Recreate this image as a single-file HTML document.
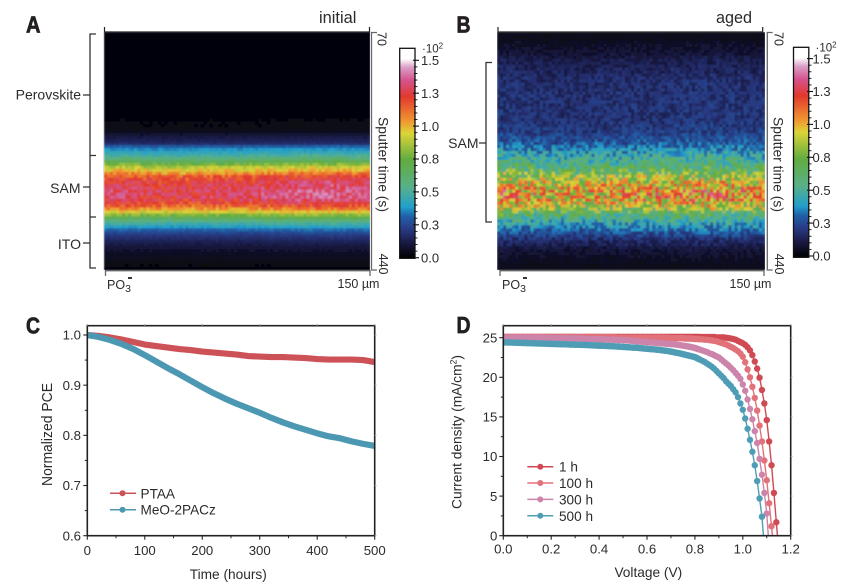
<!DOCTYPE html>
<html>
<head>
<meta charset="utf-8">
<title>Perovskite SAM degradation figure</title>
<style>
html,body{margin:0;padding:0;background:#fff;width:847px;height:586px;overflow:hidden;}
svg{display:block;}
text{font-family:"Liberation Sans",sans-serif;fill:#2b2b2b;}
.letter{font-weight:bold;font-size:23px;fill:#231f20;stroke:#231f20;stroke-width:.7px;}
</style>
</head>
<body>
<svg id="fig" xmlns="http://www.w3.org/2000/svg" width="847" height="586" viewBox="0 0 847 586">
  <defs>
    <filter id="soft" x="-2%" y="-2%" width="104%" height="104%"><feGaussianBlur stdDeviation="0.7"/></filter>
    <clipPath id="clipA"><rect x="104" y="32" width="266" height="238"/></clipPath>
    <clipPath id="clipB"><rect x="497" y="32" width="268" height="238"/></clipPath>
    <clipPath id="clipC"><rect x="87" y="325" width="288" height="211"/></clipPath>
    <clipPath id="clipD"><rect x="503" y="325" width="288" height="211"/></clipPath>
    <linearGradient id="cmap" x1="0" y1="1" x2="0" y2="0"></linearGradient>
  </defs>

  <text class="letter" x="26" y="32.5" textLength="14.5" lengthAdjust="spacingAndGlyphs">A</text>
  <text class="letter" x="456.5" y="32.5" textLength="14" lengthAdjust="spacingAndGlyphs">B</text>
  <text class="letter" x="26" y="333.5" textLength="14" lengthAdjust="spacingAndGlyphs">C</text>
  <text class="letter" x="456.5" y="333" textLength="14" lengthAdjust="spacingAndGlyphs">D</text>

  <!-- Panel A furniture -->
  <g id="heatA" clip-path="url(#clipA)"><g id="heatAcells" filter="url(#soft)"></g></g>
  <text x="319" y="23" font-size="16.4">initial</text>
  <path d="M104.5 27V32H369.5V27" fill="none" stroke="#222" stroke-width="1.2"/>
  <path d="M103.5 32V270" stroke="#ddd" stroke-width="1"/>
  <path d="M377 32.5H371.5V270H377" fill="none" stroke="#666" stroke-width="1.3"/>
  <path d="M105.5 276V270.7H370V276" fill="none" stroke="#666" stroke-width="1.3"/>
  <path d="M96 34H90V155.5M96 155.5H90V217M96 217H90V268H96M83 95H90M83 187H90M83 243H90" fill="none" stroke="#333" stroke-width="1.3"/>
  <text x="81" y="99.5" font-size="14" text-anchor="end">Perovskite</text>
  <text x="80.5" y="193" font-size="14" text-anchor="end">SAM</text>
  <text x="81" y="249" font-size="14" text-anchor="end">ITO</text>
  <text transform="translate(377.5 39) rotate(90)" font-size="12.5" text-anchor="middle">70</text>
  <text transform="translate(379 264) rotate(90)" font-size="12.5" text-anchor="middle">440</text>
  <text transform="translate(378.5 164.5) rotate(90)" font-size="13.6" text-anchor="middle" textLength="95" lengthAdjust="spacingAndGlyphs">Sputter time (s)</text>
  <text x="107" y="289" font-size="12.5">PO<tspan font-size="10.5" dy="3">3</tspan></text>
  <path d="M128 278H132" stroke="#222" stroke-width="1.8"/>
  <text x="337.5" y="288" font-size="12.5">150 µm</text>

  <!-- Panel B furniture -->
  <g id="heatB" clip-path="url(#clipB)"><g id="heatBcells" filter="url(#soft)"></g></g>
  <text x="716" y="23" font-size="16.2">aged</text>
  <path d="M498 27V32H762.7V27" fill="none" stroke="#222" stroke-width="1.2"/>
  <path d="M772.7 32.5H767.3V270H772.7" fill="none" stroke="#666" stroke-width="1.3"/>
  <path d="M500 276V270.7H764V276" fill="none" stroke="#666" stroke-width="1.3"/>
  <path d="M492 62.5H486V222H492M479 143H486" fill="none" stroke="#333" stroke-width="1.3"/>
  <text x="478.5" y="148" font-size="14" text-anchor="end">SAM</text>
  <text transform="translate(774.5 39) rotate(90)" font-size="12.5" text-anchor="middle">70</text>
  <text transform="translate(775 264) rotate(90)" font-size="12.5" text-anchor="middle">440</text>
  <text transform="translate(773.5 164.5) rotate(90)" font-size="13.6" text-anchor="middle" textLength="95" lengthAdjust="spacingAndGlyphs">Sputter time (s)</text>
  <text x="502" y="289" font-size="12.5">PO<tspan font-size="10.5" dy="3">3</tspan></text>
  <path d="M523 278H527" stroke="#222" stroke-width="1.8"/>
  <text x="729.5" y="288" font-size="12.5">150 µm</text>

  <!-- Colour bars -->
  <rect x="399.7" y="48.3" width="15.3" height="210" fill="url(#cmap)" stroke="#111" stroke-width="1.3"/>
  <rect x="793.5" y="47.3" width="15.3" height="210" fill="url(#cmap)" stroke="#111" stroke-width="1.3"/>
  <text x="422" y="52.5" font-size="11.5">·10<tspan font-size="8" dy="-4">2</tspan></text>
  <text x="815.5" y="51.5" font-size="11.5">·10<tspan font-size="8" dy="-4">2</tspan></text>
  <g id="cbarA"></g>
  <g id="cbarB"></g>

  <!-- Panel C -->
  <g id="plotC"></g>
  <text x="228.3" y="579" font-size="13.7" text-anchor="middle">Time (hours)</text>
  <text transform="translate(52 434.5) rotate(-90)" font-size="14.4" text-anchor="middle" textLength="103" lengthAdjust="spacingAndGlyphs">Normalized PCE</text>

  <!-- Panel D -->
  <g id="plotD"></g>
  <text x="648.3" y="577" font-size="13.7" text-anchor="middle">Voltage (V)</text>
  <text transform="translate(461.7 432) rotate(-90)" font-size="14.2" text-anchor="middle" textLength="154" lengthAdjust="spacingAndGlyphs">Current density (mA/cm<tspan font-size="9" dy="-5">2</tspan><tspan dy="5">)</tspan></text>
</svg>

<script>
// ---- Heatmap data: normalised intensity per depth row, lateral factor per column block, speckle table
const intensityInitial = [
 .015,.015,.015,.015,.015,.015,.015,.015,.015,.015,.015,.015,.015,.015,.015,.015,.015,.015,.015,.015,
 .015,.015,.015,.015,.015,.015,.015,.015,.015,.018,.02,.02,.025,
 .035,.055,.075,.09,.11,.19,.235,.27,.31,.36,.42,.49,.56,.61,.67,.73,.76,.78,.79,.8,.81,.815,.81,.79,.76,.72,.66,
 .59,.5,.43,.36,.3,.25,.2,.16,.13,.11,.09,.075,.06,.05,.04,.035,.03,.025,.02,.015];
const intensityAged = [
 .03,.03,.03,.04,.045,.05,.055,.06,.07,.08,.085,.09,.095,.1,.105,.11,.11,.115,.115,.115,
 .12,.12,.12,.12,.12,.12,.12,.12,.12,.12,.125,.13,.135,.14,.15,.16,.17,.185,.205,.23,
 .26,.28,.305,.33,.36,.39,.425,.46,.5,.53,.56,.59,.62,.64,.645,.64,.62,.58,.54,.49,
 .43,.38,.34,.3,.26,.23,.2,.17,.15,.12,.1,.09,.07,.06,.05,.045,.04,.035,.03,.03];
const lateralInitial = [1,1.01,1,.98,.98,.97,.97,.98,.99,.99,.99,.99,1,1.01,1.02,1.03,1.04,1.04,1.04,1.04,1.03,1.03];
const lateralAged = [1.05,1.03,1,.98,.96,.95,.95,.96,.98,1,1,1,1,1,1.02,1.04,1.05,1.05,1.03,1.02,1.01,1.01];
const speckle = [
 .3,-.7,.9,-.2,.5,-.9,.1,.7,-.4,.8,-.6,.2,-1,.6,-.1,.4,-.8,1,-.3,.2,
 -.5,.7,-.9,.3,.9,-.2,-.7,.5,.1,-.6,.8,-.4,.6,-1,.2,.4,-.3,.9,-.8,.1,
 .7,-.5,.3,-.1,1,-.7,.4,-.9,.6,-.2,.2,.8,-.6,-.3,.5,-.8,.9,.1,-.4,.7,
 -1,.3,.6,-.5,.2,-.7,.8,-.1,.4,-.9,1,-.3,.1,-.6,.7,.5,-.8,.2,-.2,.9,
 -.4,.6,-.7,.3,-.9,.8,.1,-.5,.4,-.1,.7,-.6,.2,1,-.3,-.8,.5];
const colorbarLabels = ["0.0","0.3","0.5","0.8","1.0","1.3","1.5"];

// ---- Panel C data
const hours = [0,20,40,60,80,100,120,140,160,180,200,220,240,260,280,300,320,340,360,380,400,420,440,460,480,500];
const ptaaPce = [1,.998,.995,.991,.986,.981,.978,.975,.972,.97,.967,.965,.963,.961,.958,.957,.956,.956,.955,.954,.952,.951,.951,.951,.95,.946];
const meoPce = [1,.996,.99,.982,.972,.96,.947,.934,.922,.909,.896,.884,.873,.863,.854,.845,.835,.826,.818,.811,.804,.798,.794,.788,.783,.779];
const pceXTicks = ["0","100","200","300","400","500"];
const pceYTicks = ["0.6","0.7","0.8","0.9","1.0"];
const pceSeriesNames = ["PTAA","MeO-2PACz"];

// ---- Panel D data
const voltage = [0,.02,.04,.06,.08,.1,.12,.14,.16,.18,.2,
 .22,.24,.26,.28,.3,.32,.34,.36,.38,.4,
 .42,.44,.46,.48,.5,.52,.54,.56,.58,.6,
 .62,.64,.66,.68,.7,.72,.74,.76,.78,.8,
 .81,.82,.83,.84,.85,.86,.87,.88,.89,.9,
 .91,.92,.93,.94,.95,.96,.97,.98,.99,1,
 1.01,1.02,1.03,1.04,1.05,1.06,1.07,1.08,1.09,1.1,
 1.11,1.12,1.13,1.14,1.15];
const current1h = [25.1,25.1,25.1,25.1,25.1,25.1,25.1,25.1,25.1,25.1,25.1,
 25.1,25.1,25.1,25.1,25.1,25.1,25.1,25.1,25.1,25.1,
 25.1,25.1,25.1,25.1,25.1,25.1,25.1,25.1,25.1,25.1,
 25.1,25.1,25.1,25.1,25.1,25.1,25.1,25.1,25.1,25.1,
 25.1,25.1,25.1,25.1,25.1,25.1,25.1,25.1,25.05,25.05,
 25.05,25.05,25,24.95,24.9,24.85,24.75,24.6,24.45,24.3,
 24.1,23.8,23.4,22.8,22,21.1,19.95,18.4,16.7,14.6,
 11.9,8.9,5.4,1.7,-2];
const current100h = [25.05,25.05,25.05,25.05,25.05,25.05,25.05,25.05,25.05,25.05,25.05,
 25.05,25.05,25.05,25.05,25.05,25.05,25.05,25.05,25.05,25.05,
 25.05,25.05,25.05,25,25,25,25,25,25,25,
 25,25,25,25,24.95,24.95,24.95,24.9,24.9,24.85,
 24.85,24.8,24.8,24.75,24.75,24.7,24.65,24.6,24.55,24.45,
 24.35,24.25,24.15,24,23.85,23.7,23.5,23.3,23,22.6,
 21.9,21,20,18.8,17.4,15.8,13.9,11.9,9.5,7,
 4.1,1.2,-2];
const current300h = [25,25,25,25,25,25,25,25,25,25,24.95,
 24.95,24.95,24.95,24.9,24.9,24.9,24.85,24.85,24.85,24.8,
 24.8,24.75,24.75,24.7,24.7,24.65,24.6,24.55,24.5,24.45,
 24.4,24.35,24.3,24.25,24.2,24.15,24.05,23.95,23.85,23.7,
 23.6,23.5,23.4,23.3,23.2,23.05,22.95,22.8,22.65,22.5,
 22.25,22,21.75,21.5,21.2,20.9,20.55,20.2,19.8,19.1,
 18.3,17.2,16,14.7,13.2,11.7,9.7,7.7,5.4,2.8,
 -1.5];
const current500h = [24.4,24.4,24.38,24.36,24.34,24.32,24.3,24.28,24.26,24.24,24.22,
 24.2,24.18,24.16,24.14,24.12,24.1,24.08,24.06,24.03,24,
 23.97,23.94,23.91,23.88,23.84,23.8,23.76,23.72,23.66,23.6,
 23.55,23.5,23.42,23.35,23.25,23.12,23,22.85,22.7,22.55,
 22.4,22.25,22.1,21.95,21.75,21.55,21.35,21.1,20.8,20.5,
 20.2,19.9,19.5,19.2,18.9,18.5,18.1,17.5,16.7,15.9,
 14.8,13.5,12.1,10.6,8.9,6.9,4.7,2.4,-1.5];
const jvXTicks = ["0.0","0.2","0.4","0.6","0.8","1.0","1.2"];
const jvYTicks = ["0","5","10","15","20","25"];
const jvSeriesNames = ["1 h","100 h","300 h","500 h"];

// ---- Rendering
const NS = "http://www.w3.org/2000/svg";
function mk(tag, parent, attrs) {
  const el = document.createElementNS(NS, tag);
  for (const k in attrs) el.setAttribute(k, attrs[k]);
  parent.appendChild(el);
  return el;
}
const cmapStops = [[0,"#000000"],[.07,"#181840"],[.135,"#283880"],[.2,"#2060a8"],[.245,"#22a0cc"],[.34,"#58b088"],[.47,"#62ac40"],[.595,"#dcd438"],[.65,"#f09a30"],[.77,"#e2382e"],[.85,"#d4558f"],[.91,"#dca0c8"],[.95,"#ffffff"],[1,"#ffffff"]];
const grad = document.getElementById("cmap");
cmapStops.forEach(function (s) {
  mk("stop", grad, {offset: s[0], "stop-color": s[1]});
});
function hexRgb(h) { return [parseInt(h.substr(1,2),16),parseInt(h.substr(3,2),16),parseInt(h.substr(5,2),16)]; }
function colorFor(t) {
  t = Math.max(0, Math.min(1, t));
  for (let i = 1; i < cmapStops.length; i++) {
    if (t <= cmapStops[i][0]) {
      const a = cmapStops[i-1], b = cmapStops[i];
      const f = (t - a[0]) / (b[0] - a[0]);
      const ca = hexRgb(a[1]), cb = hexRgb(b[1]);
      return "rgb(" + ca.map(function (v, k) { return Math.round(v + (cb[k]-v)*f); }).join(",") + ")";
    }
  }
  return "#fff";
}
function drawHeat(id, profile, lateral, amp, x0, y0, w, h) {
  const g = document.getElementById(id);
  const cols = lateral.length * 4, rows = profile.length;
  const cw = w / cols, ch = h / rows;
  for (let r = 0; r < rows; r++) {
    for (let c = 0; c < cols; c++) {
      const grain = speckle[(r * r * 7 + c * c * 3 + r * c * 5 + r * 41 + c * 23) % speckle.length];
      const v = profile[r] * lateral[Math.floor(c / 4)] * (1 + amp * grain);
      const cell = mk("rect", g, {x: x0 + c * cw, y: y0 + r * ch, width: cw + .4, height: ch + .4, fill: colorFor(v)});
      
      
    }
  }
}
drawHeat("heatAcells", intensityInitial, lateralInitial, .07, 104, 32, 266, 238);
drawHeat("heatBcells", intensityAged, lateralAged, .3, 497, 32, 268, 238);

function drawCbar(id, xRight, yBottom, labelX) {
  const g = document.getElementById(id);
  const step = 32.9;
  colorbarLabels.forEach(function (lab, i) {
    const y = yBottom - i * step;
    const tick = mk("path", g, {d: "M" + (xRight - 2) + " " + y + "H" + (xRight + 4), stroke: "#111", "stroke-width": 1.1});
    
    
    const t = mk("text", g, {x: labelX, y: y + 4.7, "font-size": 13});
    t.textContent = lab;
    
    
    if (i < colorbarLabels.length - 1) {
      for (let m = 1; m < 5; m++) {
        const my = y - m * step / 5;
        const mt = mk("path", g, {d: "M" + (xRight - 1) + " " + my + "H" + (xRight + 2.5), stroke: "#111", "stroke-width": .9});
        
        
      }
    }
  });
}
drawCbar("cbarA", 415, 257.7, 421);
drawCbar("cbarB", 809, 256, 812.5);

function drawFrame(g, x0, x1, y0, y1, xTicks, yTicks, xMinor, yMinor, xLabY, yLabX) {
  const f = mk("rect", g, {x: x0, y: y0, width: x1 - x0, height: y1 - y0, fill: "none", stroke: "#222", "stroke-width": 1.6});
  
  
  const nx = xTicks.length - 1, ny = yTicks.values.length - 1;
  for (let i = 0; i <= nx; i++) {
    const x = x0 + (x1 - x0) * i / nx;
    const t = mk("path", g, {d: "M" + x + " " + y1 + "v4", stroke: "#222", "stroke-width": 1.1});
    
    
    const tt = mk("path", g, {d: "M" + x + " " + y0 + "v-1.8", stroke: "#aaa", "stroke-width": 1});
    
    
    const l = mk("text", g, {x: x, y: xLabY, "font-size": 13.2, "text-anchor": "middle"});
    l.textContent = xTicks[i];
    
    
    if (i < nx && xMinor) {
      const mx = x + (x1 - x0) / nx / 2;
      const m = mk("path", g, {d: "M" + mx + " " + y1 + "v2.5", stroke: "#222", "stroke-width": 1});
      
      
    }
  }
  yTicks.values.forEach(function (v, i) {
    const y = yTicks.scale(i);
    const t = mk("path", g, {d: "M" + x0 + " " + y + "h-4", stroke: "#222", "stroke-width": 1.1});
    
    
    const rt = mk("path", g, {d: "M" + x1 + " " + y + "h1.8", stroke: "#aaa", "stroke-width": 1});
    
    
    const l = mk("text", g, {x: yLabX, y: y + 4.7, "font-size": 13.2, "text-anchor": "end"});
    l.textContent = v;
    
    
    if (i < ny && yMinor) {
      const my = (y + yTicks.scale(i + 1)) / 2;
      const m = mk("path", g, {d: "M" + x0 + " " + my + "h-2.5", stroke: "#222", "stroke-width": 1});
      
      
    }
  });
}

// Panel C
const plotC = document.getElementById("plotC");
const cx = function (t) { return 87.3 + t / 500 * 287.4; };
const cy = function (v) { return 535.7 - (v - .6) / .4 * 200.7; };
const pceColors = ["#cd5257", "#4c98b3"];
const pceSeries = [ptaaPce, meoPce];
const cClip = mk("g", plotC, {"clip-path": "url(#clipC)"});


pceSeries.forEach(function (vals, s) {
  const pts = vals.map(function (v, i) { return cx(hours[i]) + "," + cy(v); }).join(" ");
  const line = mk("polyline", cClip, {points: pts, fill: "none", stroke: pceColors[s], "stroke-width": 6.2, "stroke-linejoin": "round"});
  
  
});
drawFrame(plotC, 87.3, 374.7, 325.7, 535.7, pceXTicks,
  {values: pceYTicks, scale: function (i) { return cy(parseFloat(pceYTicks[i])); }}, true, true, 555, 81);
pceSeriesNames.forEach(function (name, s) {
  const y = 493.3 + s * 16.4;
  const l = mk("path", plotC, {d: "M110 " + y + "H136", stroke: pceColors[s], "stroke-width": 1.5});
  
  
  const d = mk("circle", plotC, {cx: 122.5, cy: y, r: 3, fill: pceColors[s]});
  
  
  const t = mk("text", plotC, {x: 140.5, y: y + 5, "font-size": 13.6});
  t.textContent = name;
  
  
});

// Panel D
const plotD = document.getElementById("plotD");
const dx = function (v) { return 503.3 + v / 1.2 * 287.4; };
const dy = function (j) { return 535.7 - j * 7.92; };
const jvColors = ["#cf4a52", "#e2727a", "#cd84ab", "#4f9db5"];
const jvSeries = [current1h, current100h, current300h, current500h];
const dClip = mk("g", plotD, {"clip-path": "url(#clipD)"});


jvSeries.forEach(function (vals, s) {
  const pts = vals.map(function (j, i) { return dx(voltage[i]) + "," + dy(j); }).join(" ");
  const line = mk("polyline", dClip, {points: pts, fill: "none", stroke: jvColors[s], "stroke-width": 1.4});
  
  
  // Points sit so close together below about 0.82 V that they merge into a solid band.
  const densePts = [];
  vals.forEach(function (j, i) {
    if (voltage[i] <= 0.82) densePts.push(dx(voltage[i]) + "," + dy(j));
  });
  const band = mk("polyline", dClip, {points: densePts.join(" "), fill: "none", stroke: jvColors[s], "stroke-width": 6.4, "stroke-linejoin": "round"});
  
  
  vals.forEach(function (j, i) {
    const c = mk("circle", dClip, {cx: dx(voltage[i]), cy: dy(j), r: 3.2, fill: jvColors[s]});
    
    
  });
});
drawFrame(plotD, 503.3, 790.7, 325.7, 535.7, jvXTicks,
  {values: jvYTicks, scale: function (i) { return dy(parseFloat(jvYTicks[i])); }}, true, true, 553.5, 497.3);
jvSeriesNames.forEach(function (name, s) {
  const y = 466.7 + s * 16.35;
  const l = mk("path", plotD, {d: "M527.3 " + y + "H553.3", stroke: jvColors[s], "stroke-width": 1.5});
  
  
  const d = mk("circle", plotD, {cx: 540.3, cy: y, r: 3, fill: jvColors[s]});
  
  
  const t = mk("text", plotD, {x: 559, y: y + 5, "font-size": 13.6});
  t.textContent = name;
  
  
});
</script>
</body>
</html>
